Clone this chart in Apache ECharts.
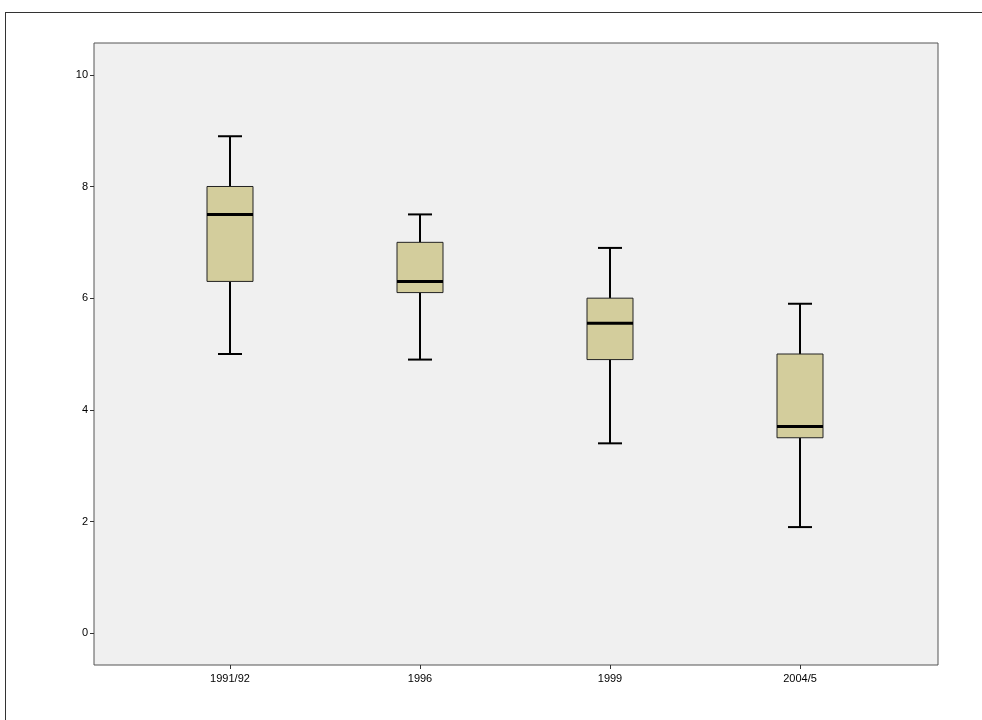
<!DOCTYPE html>
<html><head><meta charset="utf-8">
<script src="https://cdn.jsdelivr.net/npm/echarts@6/dist/echarts.min.js"></script>
<style>
body{margin:0;background:#fff}
#frame{position:absolute;left:5px;top:12px;width:990px;height:720px;border:1px solid #333}
#main{position:absolute;left:0;top:0;width:982px;height:720px}
</style></head>
<body><div id="frame"></div><div id="main"></div>
<script>
const categories = ['1991/92', '1996', '1999', '2004/5'];
// [min, Q1, median, Q3, max]
const boxValues = [
  [5.0, 6.3, 7.5, 8.0, 8.9],
  [4.9, 6.1, 6.3, 7.0, 7.5],
  [3.4, 4.9, 5.55, 6.0, 6.9],
  [1.9, 3.5, 3.7, 5.0, 5.9]
];
const yTicks = [0, 2, 4, 6, 8, 10];

const chart = echarts.init(document.getElementById('main'));
const yMin = -0.57, yMax = 10.57;
chart.setOption({
  animation: false,
  grid: [
    { left: 94, right: 44, top: 43, bottom: 55, show: true, backgroundColor: '#f0f0f0', borderColor: '#555', borderWidth: 1 },
    { left: 135, right: 87, top: 43, bottom: 55 }
  ],
  xAxis: [
    { gridIndex: 0, type: 'value', show: false },
    { gridIndex: 1, type: 'category', data: categories,
      axisLine: { show: false, onZero: false },
      axisTick: { show: true, alignWithLabel: true, length: 4, lineStyle: { color: '#333' } },
      axisLabel: { color: '#000', fontFamily: 'Arial, Liberation Sans', fontSize: 11, margin: 8 } }
  ],
  yAxis: [
    { gridIndex: 0, type: 'value', min: yMin, max: yMax,
      axisLine: { show: false }, splitLine: { show: false },
      axisTick: { show: true, length: 4, customValues: yTicks, lineStyle: { color: '#333' } },
      axisLabel: { customValues: yTicks, color: '#000', fontFamily: 'Arial, Liberation Sans', fontSize: 11, margin: 6 } },
    { gridIndex: 1, type: 'value', min: yMin, max: yMax, show: false }
  ],
  series: [{
    type: 'custom', xAxisIndex: 1, yAxisIndex: 1,
    data: boxValues.map((v, i) => [i, ...v]),
    renderItem(params, api) {
      const x = api.coord([api.value(0), 0])[0];
      const y = (k) => api.coord([api.value(0), api.value(k)])[1];
      const lo = y(1), q1 = y(2), md = y(3), q3 = y(4), hi = y(5);
      const w = 23, c = 12;
      const ln = (x1, y1, x2, y2, lw) => ({ type: 'line', shape: { x1, y1, x2, y2 }, style: { stroke: '#000', lineWidth: lw } });
      return { type: 'group', children: [
        ln(x, hi, x, q3, 2), ln(x, q1, x, lo, 2),
        ln(x - c, hi, x + c, hi, 2), ln(x - c, lo, x + c, lo, 2),
        { type: 'rect', shape: { x: x - w, y: q3, width: 2 * w, height: q1 - q3 }, style: { fill: '#d3cd9c', stroke: '#222', lineWidth: 1 } },
        ln(x - w, md, x + w, md, 3)
      ] };
    }
  }]
});
</script></body></html>
